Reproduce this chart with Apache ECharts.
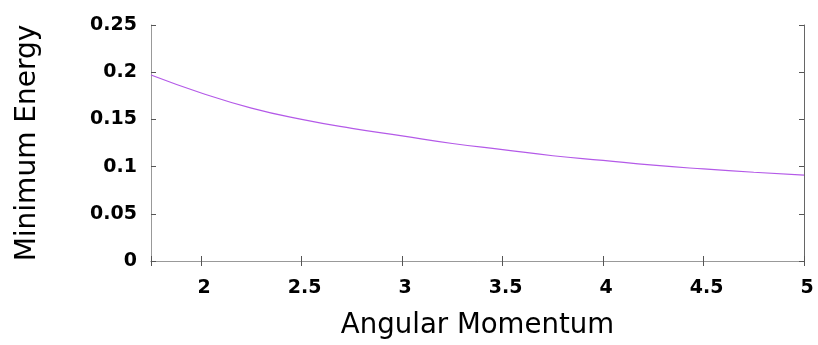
<!DOCTYPE html>
<html>
<head>
<meta charset="utf-8">
<script src="https://cdn.jsdelivr.net/npm/echarts@6/dist/echarts.min.js"></script>
<style>html,body{margin:0;padding:0;background:#fff}#c{width:818px;height:345px}</style>
</head>
<body>
<div id="c"></div>
<script>
const angularMomentum = [1.75, 2.0, 2.25, 2.5, 2.75, 3.0, 3.25, 3.5, 3.75, 4.0, 4.25, 4.5, 4.75, 5.0];
const minimumEnergy  = [0.197, 0.178, 0.162, 0.150, 0.1405, 0.1325, 0.1245, 0.118, 0.1115, 0.1065, 0.1015, 0.0975, 0.094, 0.091];
const xTitle = 'Angular Momentum';
const yTitle = 'Minimum Energy';

const chart = echarts.init(document.getElementById('c'));
const tickFont = {fontFamily: 'DejaVu Sans', fontWeight: 'bold', fontSize: 19, color: '#000'};
const lineStyle = {color: '#999999', width: 1};
chart.setOption({
  animation: false,
  grid: {left: 151, right: 14, top: 25, bottom: 84},
  xAxis: [{
    type: 'value', min: 1.75, max: 5, position: 'bottom',
    name: xTitle, nameLocation: 'middle', nameGap: 51,
    nameTextStyle: {fontFamily: 'DejaVu Sans', fontSize: 27.6, color: '#000'},
    axisLine: {show: true, lineStyle: lineStyle},
    axisTick: {show: true, inside: true, length: 5, lineStyle: {color: '#555'}},
    axisLabel: Object.assign({margin: 18, padding: [0, 0, 0, 6],
      formatter: v => (Math.abs(v - 1.75) < 1e-9 ? '' : String(v))}, tickFont),
    splitLine: {show: false}
  }, {
    type: 'value', min: 1.75, max: 5, position: 'top',
    axisLine: {show: true, lineStyle: lineStyle},
    axisTick: {show: true, inside: true, length: 5, lineStyle: {color: '#555'}},
    axisLabel: {show: false}, splitLine: {show: false}
  }],
  yAxis: [{
    type: 'value', min: 0, max: 0.25, interval: 0.05, position: 'left',
    name: yTitle, nameLocation: 'middle', nameGap: 109,
    nameTextStyle: {fontFamily: 'DejaVu Sans', fontSize: 28, color: '#000'},
    axisLine: {show: true, lineStyle: lineStyle},
    axisTick: {show: true, inside: true, length: 5, lineStyle: {color: '#555'}},
    axisLabel: Object.assign({margin: 14}, tickFont),
    splitLine: {show: false}
  }, {
    type: 'value', min: 0, max: 0.25, interval: 0.05, position: 'right',
    axisLine: {show: true, lineStyle: {color: '#666', width: 1}},
    axisTick: {show: true, inside: true, length: 5, lineStyle: {color: '#555'}},
    axisLabel: {show: false}, splitLine: {show: false}
  }],
  series: [{
    type: 'line', smooth: true, showSymbol: false,
    data: angularMomentum.map((x, i) => [x, minimumEnergy[i]]),
    lineStyle: {color: '#b45ae8', width: 1.2}
  }]
});
</script>
</body>
</html>
